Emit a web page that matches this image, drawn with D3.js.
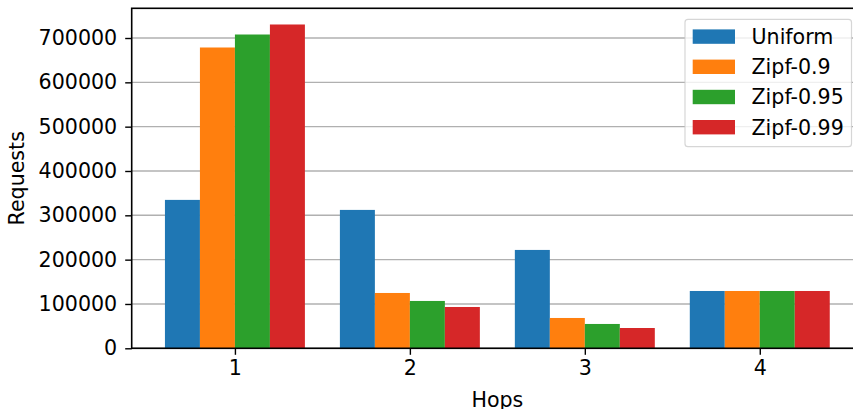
<!DOCTYPE html>
<html>
<head>
<meta charset="utf-8">
<script src="https://cdn.jsdelivr.net/npm/d3@7"></script>
<style>
  body { margin: 0; background: #fff; }
  svg { display: block; font-family: "DejaVu Sans", sans-serif; }
</style>
</head>
<body>
<div id="chart"></div>
<script>
// data
var hops = [1, 2, 3, 4];
var seriesNames = ["Uniform", "Zipf-0.9", "Zipf-0.95", "Zipf-0.99"];
var uniform = [334800, 312200, 221900, 129300];
var zipf090 = [678600, 124800, 68400, 129300];
var zipf095 = [707900, 106800, 54900, 129300];
var zipf099 = [730500, 93200, 45800, 129300];
var yTicks = [0, 100000, 200000, 300000, 400000, 500000, 600000, 700000];

var colors = ["#1f77b4", "#ff7f0e", "#2ca02c", "#d62728"];
var series = [uniform, zipf090, zipf095, zipf099];

var w = 853, h = 409,
    padL = 131.7, padR = 863, padT = 8.3, padB = 348.3,
    fs = 20.6,
    barW = 0.2;

var svg = d3.select("#chart").append("svg")
  .attr("width", w)
  .attr("height", h);

// matplotlib style 5% margins
var xMin = hops[0] - 2 * barW, xMax = hops[hops.length - 1] + 2 * barW,
    xPad = (xMax - xMin) * 0.05;
var x = d3.scaleLinear().domain([xMin - xPad, xMax + xPad]).range([padL, padR]);
var yMax = d3.max(series, (s) => d3.max(s)) * 1.05;
var y = d3.scaleLinear().domain([0, yMax]).range([padB, padT]);

// grid
svg.append("g")
  .selectAll("line")
  .data(yTicks)
  .enter().append("line")
  .attr("x1", padL).attr("x2", padR)
  .attr("y1", (d) => y(d)).attr("y2", (d) => y(d))
  .attr("stroke", "#b0b0b0")
  .attr("stroke-width", 1.4);

// bars
series.forEach((s, i) => {
  svg.append("g")
    .selectAll("rect")
    .data(s)
    .enter().append("rect")
    .attr("x", (d, j) => x(hops[j] + (i - 2) * barW))
    .attr("width", x(barW) - x(0))
    .attr("y", (d) => y(d))
    .attr("height", (d) => y(0) - y(d))
    .attr("fill", colors[i]);
});

// spines
svg.append("rect")
  .attr("x", padL).attr("y", padT)
  .attr("width", padR - padL).attr("height", padB - padT)
  .attr("fill", "none")
  .attr("stroke", "#000")
  .attr("stroke-width", 1.6);

// y axis
var yAxis = svg.append("g")
  .attr("transform", "translate(" + padL + ",0)")
  .call(d3.axisLeft(y).tickValues(yTicks).tickFormat(d3.format("d")).tickSize(6.5).tickPadding(8));
yAxis.select(".domain").remove();
yAxis.selectAll("line").attr("stroke", "#000").attr("stroke-width", 1.4);
yAxis.selectAll("text")
  .attr("fill", "#000")
  .style("font-size", fs + "px")
  .style("font-family", "DejaVu Sans");

// x axis
var xAxis = svg.append("g")
  .attr("transform", "translate(0," + padB + ")")
  .call(d3.axisBottom(x).tickValues(hops).tickFormat(d3.format("d")).tickSize(6.5).tickPadding(6));
xAxis.select(".domain").remove();
xAxis.selectAll("line").attr("stroke", "#000").attr("stroke-width", 1.4);
xAxis.selectAll("text")
  .attr("fill", "#000")
  .style("font-size", fs + "px")
  .style("font-family", "DejaVu Sans");

// axis titles
svg.append("text")
  .attr("x", (padL + padR) / 2)
  .attr("y", 407)
  .attr("text-anchor", "middle")
  .style("font-size", fs + "px")
  .text("Hops");

svg.append("text")
  .attr("transform", "translate(24," + (padT + padB) / 2 + ") rotate(-90)")
  .attr("text-anchor", "middle")
  .style("font-size", fs + "px")
  .text("Requests");

// legend
var legend = svg.append("g");
legend.append("rect")
  .attr("x", 685).attr("y", 19.3)
  .attr("width", 166.5).attr("height", 127.4)
  .attr("rx", 3)
  .attr("fill", "#fff").attr("fill-opacity", 0.8)
  .attr("stroke", "#cccccc").attr("stroke-opacity", 0.8)
  .attr("stroke-width", 1.2);

var item = legend.selectAll("g.item")
  .data(seriesNames)
  .enter().append("g")
  .attr("class", "item")
  .attr("transform", (d, i) => "translate(0," + (36.6 + i * 30.2) + ")");
item.append("rect")
  .attr("x", 692.7).attr("y", -7.2)
  .attr("width", 42.3).attr("height", 14.4)
  .attr("fill", (d, i) => colors[i]);
item.append("text")
  .attr("x", 751.5)
  .attr("dy", "0.36em")
  .style("font-size", fs + "px")
  .text((d) => d);
</script>
</body>
</html>
